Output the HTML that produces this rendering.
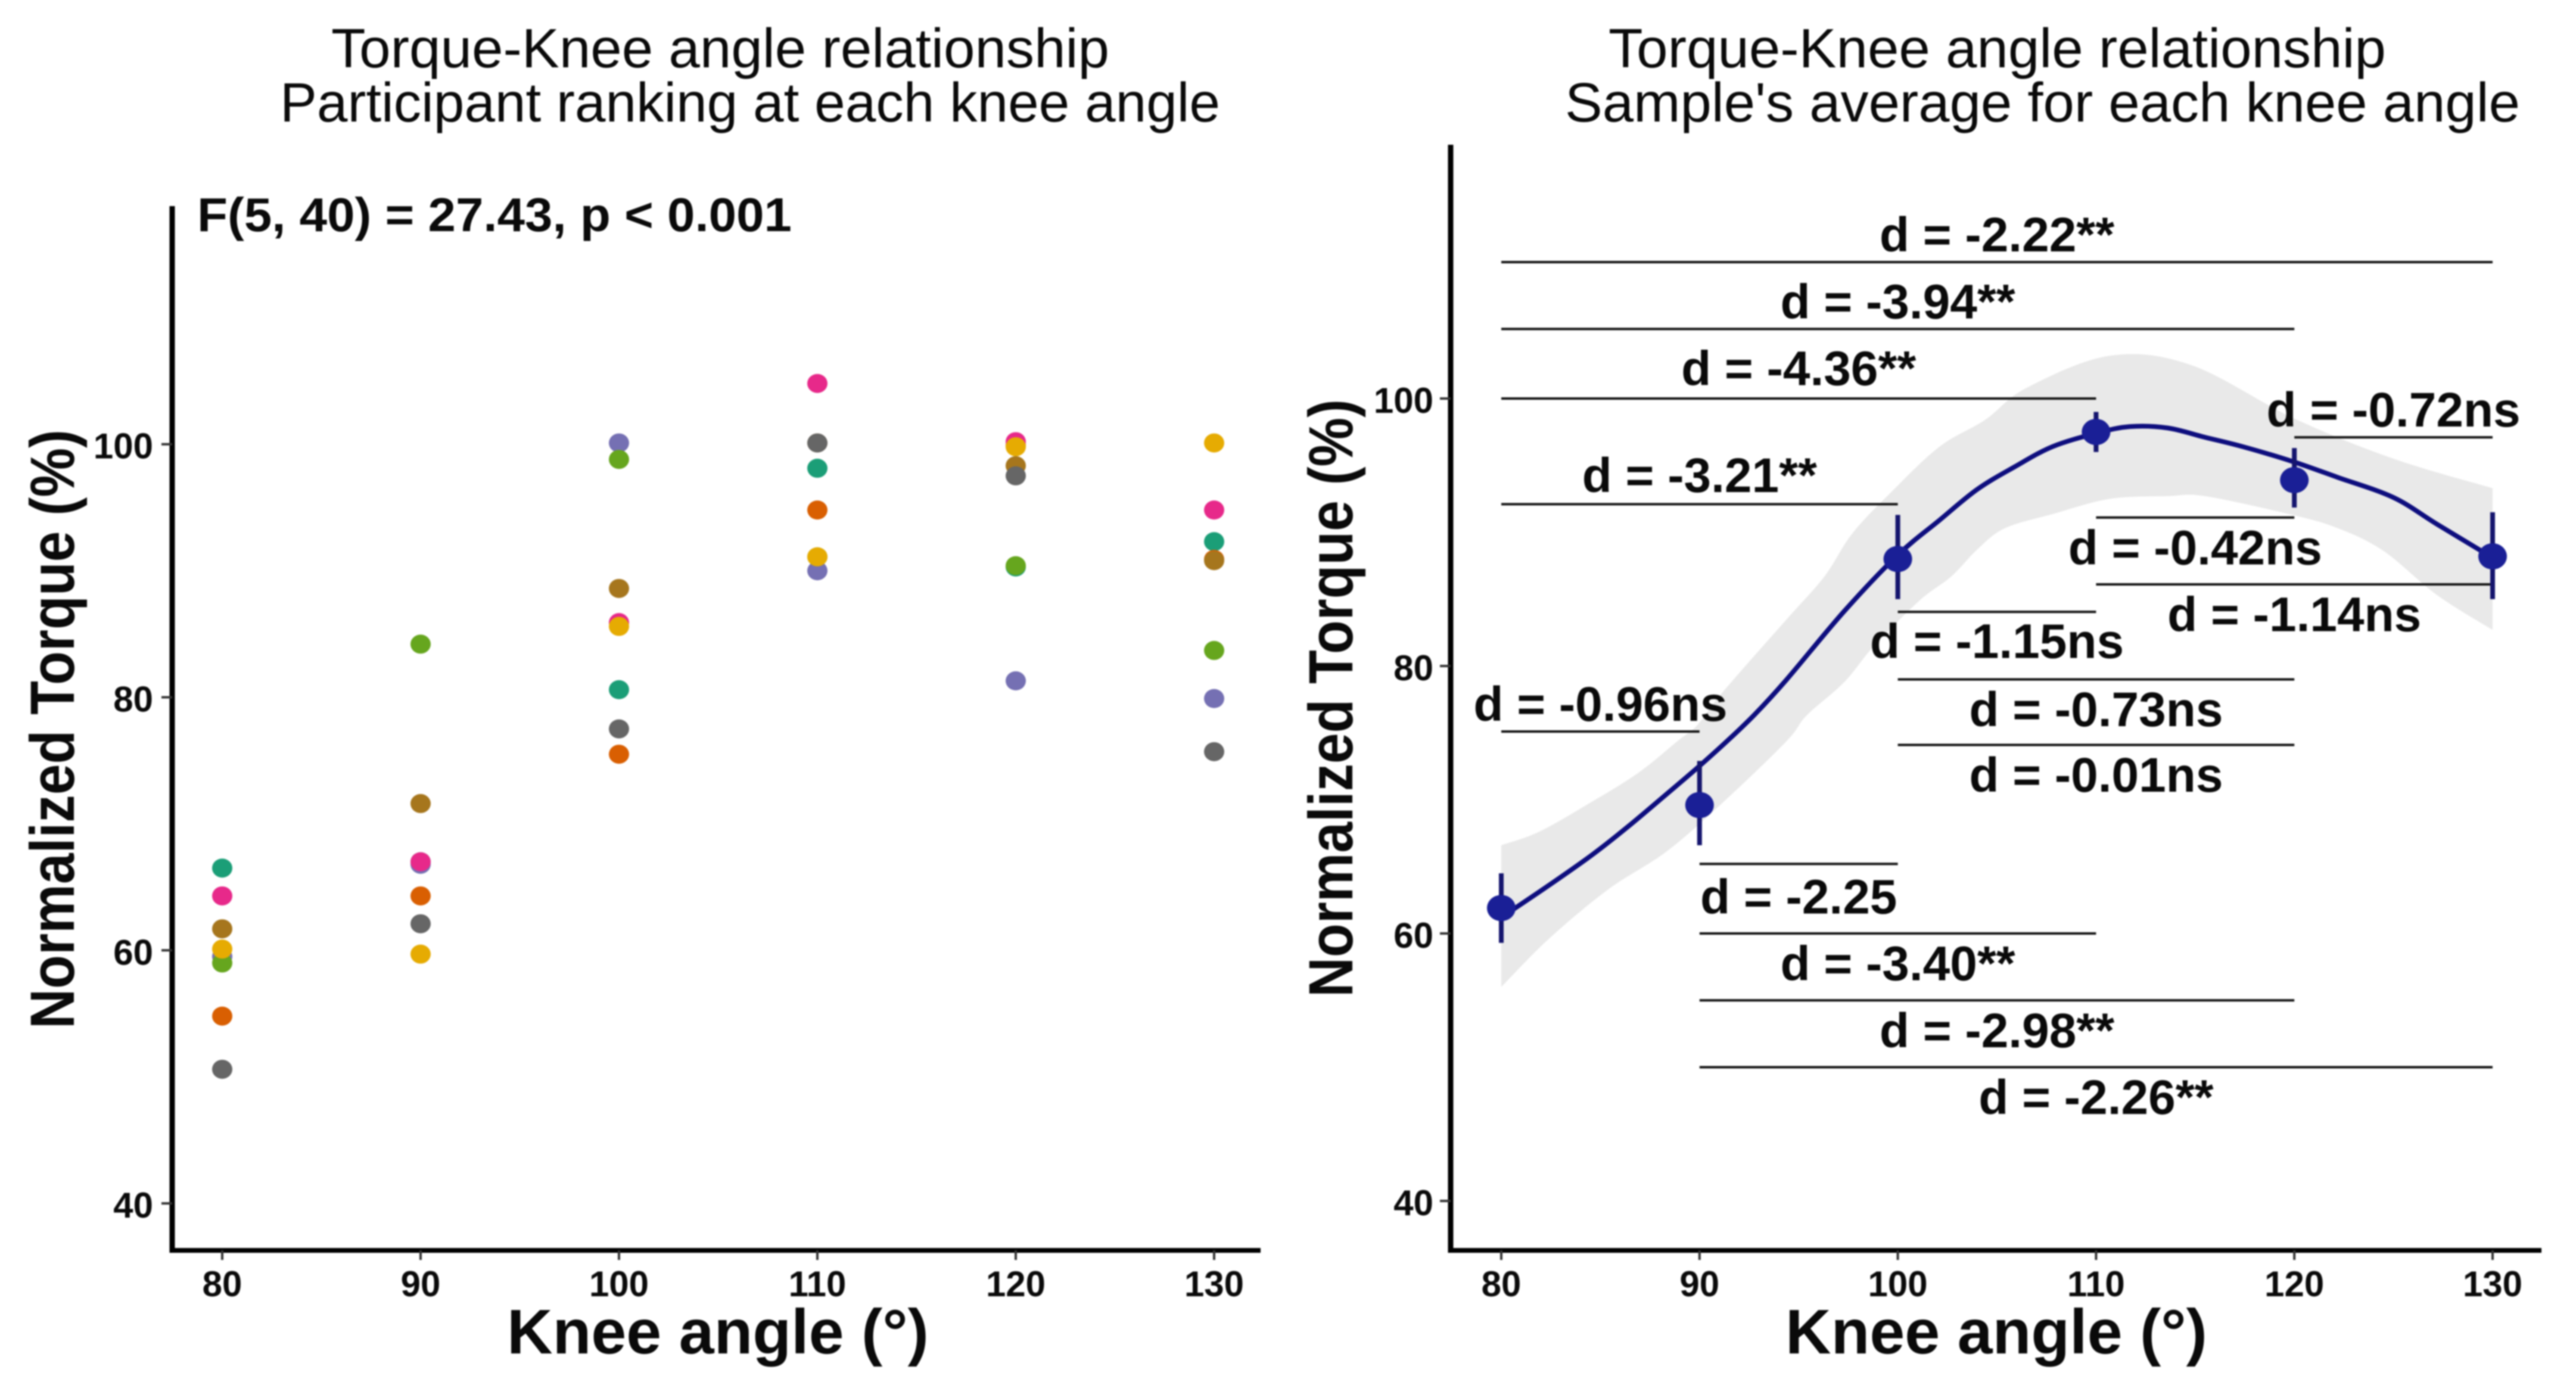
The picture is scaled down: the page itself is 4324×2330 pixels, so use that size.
<!DOCTYPE html>
<html lang="en">
<head>
<meta charset="utf-8">
<title>Torque-Knee angle relationship</title>
<style>
html,body{margin:0;padding:0;background:#fff;}
#figure{display:block;width:4324px;height:2330px;font-family:"Liberation Sans",Arial,sans-serif;filter:blur(1.2px);}
text{fill:#0a0a0a;}
</style>
</head>
<body>
<svg id="figure" xmlns="http://www.w3.org/2000/svg" width="4324" height="2330" viewBox="0 0 4324 2330">
  <rect x="0" y="0" width="4324" height="2330" fill="#fff"/>

  <g id="left-panel">
    <text x="556" y="113" font-size="93" textLength="1306" lengthAdjust="spacingAndGlyphs">Torque-Knee angle relationship</text>
    <text x="470" y="204" font-size="93" textLength="1578" lengthAdjust="spacingAndGlyphs">Participant ranking at each knee angle</text>
    <text x="331" y="388" font-size="80" font-weight="700" textLength="998" lengthAdjust="spacingAndGlyphs">F(5, 40) = 27.43, p &lt; 0.001</text>
    <text x="1205" y="2272" font-size="106" font-weight="700" text-anchor="middle">Knee angle (°)</text>
    <text transform="translate(124,1224) rotate(-90)" font-size="105" font-weight="700" text-anchor="middle" textLength="1006" lengthAdjust="spacingAndGlyphs">Normalized Torque (%)</text>
  </g>

  <g id="right-panel">
    <text x="2700" y="113" font-size="93" textLength="1305" lengthAdjust="spacingAndGlyphs">Torque-Knee angle relationship</text>
    <text x="2627" y="204" font-size="93" textLength="1603" lengthAdjust="spacingAndGlyphs">Sample's average for each knee angle</text>
    <text x="3351" y="2272" font-size="106" font-weight="700" text-anchor="middle">Knee angle (°)</text>
    <text transform="translate(2270,1172) rotate(-90)" font-size="105" font-weight="700" text-anchor="middle" textLength="1004" lengthAdjust="spacingAndGlyphs">Normalized Torque (%)</text>
  </g>
</svg>

<script>
// ---------- shared axis data ----------
const angleTicks = [80, 90, 100, 110, 120, 130];
const torqueTicks = [40, 60, 80, 100];

// ---------- left panel: participant values at each angle ----------
const participantTeal   = [66.5, 67.0, 80.6, 98.1, 90.3, 92.3];
const participantOrange = [54.8, 64.3, 75.5, 94.8, 99.9, 90.9];
const participantPurple = [59.5, 66.8, 100.1, 90.0, 81.3, 79.9];
const participantPink   = [64.3, 67.0, 85.9, 104.8, 100.2, 94.8];
const participantGreen  = [59.0, 84.2, 98.8, 91.1, 90.4, 83.7];
const participantYellow = [60.1, 59.7, 85.6, 91.1, 99.8, 100.1];
const participantBrown  = [61.7, 71.6, 88.6, 100.1, 98.3, 90.8];
const participantGray   = [50.6, 62.1, 77.5, 100.1, 97.5, 75.7];

// ---------- right panel: means, error bars, smooth fit, confidence band ----------
const meanTorque = [61.9, 69.6, 88.0, 97.5, 93.9, 88.2];
const errorHigh  = [64.5, 72.9, 91.3, 99.0, 96.3, 91.5];
const errorLow   = [59.3, 66.6, 85.0, 96.0, 91.85, 85.0];

const fitAngles = [80, 82.4, 84.6, 86.4, 88.4, 89.9, 91.4, 92.8, 94.4, 97.3, 100, 102.1, 104, 105.9, 107.8, 110, 111.7, 113.6, 115.5, 117.4, 119.9, 122.2, 125, 127.2, 130];
const fitTorque = [61.2, 63.6, 65.9, 68.0, 70.5, 72.4, 74.4, 76.4, 79.0, 84.1, 88.3, 90.9, 93.2, 94.9, 96.4, 97.4, 97.9, 97.8, 97.1, 96.4, 95.3, 94.1, 92.6, 90.6, 88.1];

const bandUpperAngles = [80, 81.9, 84.4, 86.9, 88.9, 89.9, 91.2, 94.4, 96.3, 97.7, 99.6, 102.1, 104.4, 106.5, 110.7, 114.8, 120, 125, 130];
const bandUpperTorque = [66.6, 67.6, 69.7, 72.0, 74.4, 75.6, 78.1, 83.5, 86.7, 89.9, 92.9, 96.4, 98.4, 100.8, 103.2, 102.5, 98.5, 95.5, 93.3];
const bandLowerAngles = [80, 82.4, 85.4, 88.4, 91.4, 94.4, 95.4, 97.3, 98.8, 101.1, 102.7, 104, 105.4, 107.9, 110.7, 113.6, 115.5, 119.9, 122.2, 124.5, 127.2, 130];
const bandLowerTorque = [56.0, 59.6, 63.3, 66.2, 70.1, 74.4, 76.3, 78.8, 81.5, 84.9, 86.7, 88.7, 90.3, 91.4, 92.5, 92.7, 92.7, 91.3, 90.3, 88.6, 85.3, 82.7];

// ---------- right panel: pairwise comparisons ----------
const compareFrom  = [80, 80, 80, 80, 120, 110, 110, 100, 100, 100, 80, 90, 90, 90, 90];
const compareTo    = [130, 120, 110, 100, 130, 120, 130, 110, 120, 120, 90, 100, 110, 120, 130];
const compareLevel = [110.2, 105.2, 100, 92.1, 97.1, 91.1, 86.1, 84.05, 79, 74.1, 75.1, 65.2, 60, 55, 50];

const effectLabels = ["d = -2.22**", "d = -3.94**", "d = -4.36**", "d = -3.21**", "d = -0.72ns", "d = -0.42ns", "d = -1.14ns", "d = -1.15ns", "d = -0.73ns", "d = -0.01ns", "d = -0.96ns", "d = -2.25", "d = -3.40**", "d = -2.98**", "d = -2.26**"];
const effectAngle  = [105, 100, 95, 90, 125, 115, 120, 105, 110, 110, 85, 95, 100, 105, 110];
const effectLevel  = [111, 106, 101, 93, 97.9, 87.6, 82.6, 80.6, 75.5, 70.6, 75.9, 61.5, 56.5, 51.5, 46.5];

// ---------- axis functions ----------
function leftX(angle) { return 373 + (angle - 80) * 33.3; }
function leftY(value) { return 745.7 + (100 - value) * 21.24; }
function rightX(angle) { return 2520 + (angle - 80) * 33.28; }
function rightY(value) { return 669 + (100 - value) * 22.45; }

const SVGNS = 'http://www.w3.org/2000/svg';
function make(parent, tag, attrs) {
  const el = document.createElementNS(SVGNS, tag);
  for (const k in attrs) el.setAttribute(k, attrs[k]);
  parent.appendChild(el);
  return el;
}

// Catmull-Rom smoothing through a list of [x, y] pairs; returns path commands after the first point.
function smoothSegments(pts) {
  let d = '';
  for (let i = 0; i < pts.length - 1; i++) {
    const p0 = pts[Math.max(i - 1, 0)], p1 = pts[i], p2 = pts[i + 1], p3 = pts[Math.min(i + 2, pts.length - 1)];
    const c1x = p1[0] + (p2[0] - p0[0]) / 6, c1y = p1[1] + (p2[1] - p0[1]) / 6;
    const c2x = p2[0] - (p3[0] - p1[0]) / 6, c2y = p2[1] - (p3[1] - p1[1]) / 6;
    d += ' C' + c1x + ' ' + c1y + ' ' + c2x + ' ' + c2y + ' ' + p2[0] + ' ' + p2[1];
  }
  return d;
}

const leftPanel = document.getElementById('left-panel');
const rightPanel = document.getElementById('right-panel');

// ---------- axes ----------
function drawAxes(panel, axisX, axisTop, axisEnd, xFn, yFn, yLabelEdge) {
  const yLine = make(panel, 'line', {x1: axisX, y1: axisTop, x2: axisX, y2: 2103, stroke: '#000', 'stroke-width': 9});
  
  
  const xLine = make(panel, 'line', {x1: axisX - 4.5, y1: 2099, x2: axisEnd, y2: 2099, stroke: '#000', 'stroke-width': 8});
  
  
  angleTicks.forEach(function (t) {
    const tick = make(panel, 'line', {x1: xFn(t), y1: 2099, x2: xFn(t), y2: 2115, stroke: '#333', 'stroke-width': 4});
    
    
    const label = make(panel, 'text', {x: xFn(t), y: 2176, 'font-size': 60, 'font-weight': 700, 'text-anchor': 'middle'});
    label.textContent = t;
    
    
  });
  torqueTicks.forEach(function (t) {
    const tick = make(panel, 'line', {x1: axisX - 18, y1: yFn(t), x2: axisX, y2: yFn(t), stroke: '#333', 'stroke-width': 4});
    
    
    const label = make(panel, 'text', {x: yLabelEdge, y: yFn(t) + 24, 'font-size': 60, 'font-weight': 700, 'text-anchor': 'end'});
    label.textContent = t;
    
    
  });
}
drawAxes(leftPanel, 289, 346, 2116, leftX, leftY, 257);
drawAxes(rightPanel, 2435, 243, 4266, rightX, rightY, 2406);

// ---------- left scatter ----------
const participantSeries = [participantTeal, participantOrange, participantPurple, participantPink, participantGreen, participantYellow, participantBrown, participantGray];
const participantNames = ['teal', 'orange', 'purple', 'pink', 'green', 'yellow', 'brown', 'gray'];
const participantColors = ['#1b9e77', '#d95f02', '#7570b3', '#e7298a', '#66a61e', '#e6ab02', '#a6761d', '#666666'];
participantSeries.forEach(function (series, s) {
  series.forEach(function (value, i) {
    const dot = make(leftPanel, 'ellipse', {cx: leftX(angleTicks[i]), cy: leftY(value), rx: 17, ry: 16, fill: participantColors[s]});
    
    
  });
});

// ---------- right: band ----------
const bandUpperPts = bandUpperAngles.map(function (a, i) { return [rightX(a), rightY(bandUpperTorque[i])]; });
const bandLowerPts = bandLowerAngles.map(function (a, i) { return [rightX(a), rightY(bandLowerTorque[i])]; }).reverse();
const bandPath = 'M' + bandUpperPts[0][0] + ' ' + bandUpperPts[0][1] + smoothSegments(bandUpperPts) +
  ' L' + bandLowerPts[0][0] + ' ' + bandLowerPts[0][1] + smoothSegments(bandLowerPts) + ' Z';
const band = make(rightPanel, 'path', {d: bandPath, fill: '#e9e9e9'});



// ---------- right: comparison lines ----------
compareLevel.forEach(function (level, i) {
  const bar = make(rightPanel, 'line', {x1: rightX(compareFrom[i]), y1: rightY(level), x2: rightX(compareTo[i]), y2: rightY(level), stroke: '#111', 'stroke-width': 4});
  
  
});

// ---------- right: smooth fit ----------
const fitPts = fitAngles.map(function (a, i) { return [rightX(a), rightY(fitTorque[i])]; });
const fit = make(rightPanel, 'path', {d: 'M' + fitPts[0][0] + ' ' + fitPts[0][1] + smoothSegments(fitPts), fill: 'none', stroke: '#0e0e7e', 'stroke-width': 8, 'stroke-linejoin': 'round'});



// ---------- right: means with error bars ----------
meanTorque.forEach(function (value, i) {
  const x = rightX(angleTicks[i]);
  const err = make(rightPanel, 'line', {x1: x, y1: rightY(errorHigh[i]), x2: x, y2: rightY(errorLow[i]), stroke: '#15156e', 'stroke-width': 8});
  
  
  const dot = make(rightPanel, 'ellipse', {cx: x, cy: rightY(value), rx: 24, ry: 22, fill: '#1a1f96'});
  
  
});

// ---------- right: effect size labels ----------
effectLabels.forEach(function (text, i) {
  const label = make(rightPanel, 'text', {x: rightX(effectAngle[i]), y: rightY(effectLevel[i]), 'font-size': 82, 'font-weight': 700, 'text-anchor': 'middle'});
  label.textContent = text;
  
  
});
</script>
</body>
</html>
